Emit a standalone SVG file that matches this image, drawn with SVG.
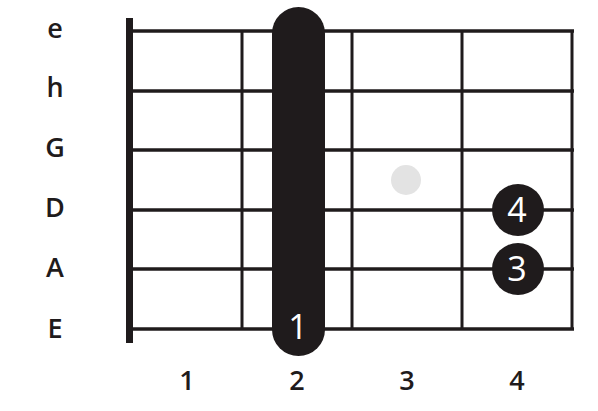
<svg xmlns="http://www.w3.org/2000/svg" width="598" height="411" viewBox="0 0 598 411">
<style>
.lbl{font-family:"Open Sans","Liberation Sans",sans-serif;font-size:27px;font-weight:600;fill:#1f1b1c;text-anchor:middle}
.fin{font-family:"Open Sans","Liberation Sans",sans-serif;font-size:34px;font-weight:400;fill:#ffffff;text-anchor:middle}
.str{stroke:#1f1b1c;stroke-width:3.5}
.fret{stroke:#1f1b1c;stroke-width:3}
</style>
<rect width="598" height="411" fill="#ffffff"/>
<g id="connectors">
<line class="str" x1="130" y1="31" x2="574" y2="31"/>
<line class="str" x1="130" y1="91" x2="574" y2="91"/>
<line class="str" x1="130" y1="150" x2="574" y2="150"/>
<line class="str" x1="130" y1="210" x2="574" y2="210"/>
<line class="str" x1="130" y1="269" x2="574" y2="269"/>
<line class="str" x1="130" y1="329" x2="574" y2="329"/>
<line class="fret" x1="242" y1="31" x2="242" y2="329"/>
<line class="fret" x1="352" y1="31" x2="352" y2="329"/>
<line class="fret" x1="462" y1="31" x2="462" y2="329"/>
<line class="fret" x1="572" y1="31" x2="572" y2="329"/>
<rect x="126" y="18" width="7" height="325" fill="#1f1b1c"/>
</g>
<g id="string-labels">
<text class="lbl" x="55" y="38">e</text>
<text class="lbl" x="55" y="97">h</text>
<text class="lbl" x="55" y="157">G</text>
<text class="lbl" x="55" y="217">D</text>
<text class="lbl" x="55" y="277">A</text>
<text class="lbl" x="55" y="338">E</text>
</g>
<g id="fret-labels">
<text class="lbl" x="187" y="390">1</text>
<text class="lbl" x="297" y="390">2</text>
<text class="lbl" x="407" y="390">3</text>
<text class="lbl" x="517" y="390">4</text>
</g>
<g id="barre">
<rect x="272" y="7" width="53" height="349" rx="26.5" ry="26.5" fill="#1f1b1c"/>
<text class="fin" x="298" y="339">1</text>
</g>
<g id="ghost-dot">
<circle cx="406" cy="180" r="15" fill="#e3e3e3"/>
</g>
<g id="finger-4">
<circle cx="518" cy="210" r="26" fill="#1f1b1c"/>
<text class="fin" x="517" y="222">4</text>
</g>
<g id="finger-3">
<circle cx="518" cy="269" r="26" fill="#1f1b1c"/>
<text class="fin" x="517" y="281">3</text>
</g>
</svg>
